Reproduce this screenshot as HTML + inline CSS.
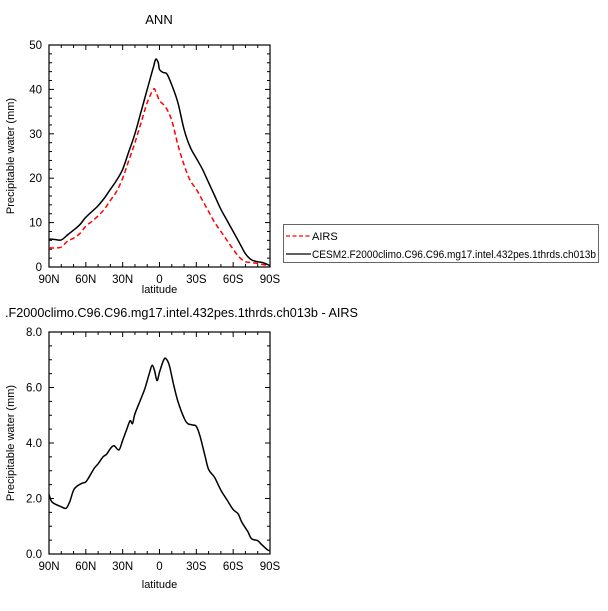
<!DOCTYPE html>
<html><head><meta charset="utf-8"><style>
body{margin:0;background:#fff;}
svg{display:block;font-family:"Liberation Sans",Arial,sans-serif;}
</style></head><body>
<svg id="c" width="608" height="611" viewBox="0 0 608 611">
<text x="159" y="24" font-size="13" text-anchor="middle">ANN</text>
<text x="5" y="317" font-size="13" textLength="353" lengthAdjust="spacingAndGlyphs">.F2000climo.C96.C96.mg17.intel.432pes.1thrds.ch013b - AIRS</text>
<g>
<rect x="283.5" y="224.5" width="315" height="38" fill="#fff" stroke="#666" stroke-width="1"/>
<line x1="286" y1="236" x2="311" y2="236" stroke="#f00" stroke-width="1.3" stroke-dasharray="4,2.5"/>
<text x="312" y="240" font-size="11">AIRS</text>
<line x1="286" y1="254" x2="311" y2="254" stroke="#000" stroke-width="1.3"/>
<text x="312" y="258" font-size="11" textLength="284" lengthAdjust="spacingAndGlyphs">CESM2.F2000climo.C96.C96.mg17.intel.432pes.1thrds.ch013b</text>
</g>
</svg>
<script>
const latTop=[90,85,80,75,70,65,60,55,50,45,40,35,30,25,20,15,10,5,3,1,0,-3,-6,-10,-15,-20,-25,-30,-35,-40,-45,-50,-55,-60,-65,-70,-75,-80,-85,-90];
const cesm=[6.3,6.2,6.1,7.2,8.3,9.5,11.2,12.5,13.8,15.5,17.5,19.5,22,26,30,35,40,45,46.8,46,44.5,43.8,43.5,41,37,31,27,24.5,22,19,16,13,10.5,8,5.5,3,1.6,1.2,0.9,0.3];
const latAirs=[90,85,80,75,70,65,60,55,50,45,40,35,30,25,20,15,10,5,3,0,-5,-10,-15,-20,-25,-30,-35,-40,-45,-50,-55,-60,-65,-70,-75,-80,-85,-90];
const airs=[4.3,4.3,4.5,5.8,6.5,7.5,9.2,10.3,11.5,13,15,17,20,24,28,32.5,37,40,39.5,37.5,36,33,27.5,23,19.5,17.5,15,12.5,10,8,6,4,2.2,1.2,1,0.8,0.5,0.3];
const latDiff=[90,88,85,80,76,73,70,67,63,60,57,53,50,46,43,40,37,33,30,27,24,22,20,16,12,8,6,4,2,0,-3,-5,-8,-11,-15,-20,-23,-27,-30,-33,-37,-40,-45,-50,-55,-60,-64,-67,-72,-75,-80,-83,-88,-90];
const diff=[2.15,1.9,1.8,1.7,1.65,1.9,2.3,2.45,2.55,2.6,2.8,3.1,3.25,3.5,3.6,3.8,3.9,3.75,4.1,4.45,4.8,4.7,5.05,5.5,5.95,6.55,6.8,6.6,6.25,6.55,6.95,7.05,6.8,6.2,5.5,4.9,4.7,4.65,4.6,4.25,3.55,3.05,2.75,2.3,1.95,1.6,1.45,1.15,0.8,0.55,0.48,0.35,0.15,0.12];
const xTicks=[90,60,30,0,-30,-60,-90];
const xTickLabels=["90N","60N","30N","0","30S","60S","90S"];
const yTicksTop=[0,10,20,30,40,50];
const yTicksBot=[0,2,4,6,8];
const yLabelsBot=["0.0","2.0","4.0","6.0","8.0"];

const svg=document.getElementById('c');
const NS='http://www.w3.org/2000/svg';
function mk(t,a){const e=document.createElementNS(NS,t);for(const k in a)e.setAttribute(k,a[k]);svg.appendChild(e);return e;}
const L=49,R=270;
const xs=lat=>L+(90-lat)/180*(R-L);
function smooth(pts){
  let d='M'+pts[0][0].toFixed(1)+','+pts[0][1].toFixed(1);
  for(let i=0;i<pts.length-1;i++){
    const p0=pts[i-1]||pts[i],p1=pts[i],p2=pts[i+1],p3=pts[i+2]||p2;
    const c1=[p1[0]+(p2[0]-p0[0])/6,p1[1]+(p2[1]-p0[1])/6];
    const c2=[p2[0]-(p3[0]-p1[0])/6,p2[1]-(p3[1]-p1[1])/6];
    d+='C'+c1[0].toFixed(1)+','+c1[1].toFixed(1)+' '+c2[0].toFixed(1)+','+c2[1].toFixed(1)+' '+p2[0].toFixed(1)+','+p2[1].toFixed(1);
  }
  return d;
}
function panel(top,bot,ymax,yTicks,yLabels,yMinor,series,name,titleOff){
  const ys=v=>bot-(v/ymax)*(bot-top);
  const f=mk('rect',{x:L,y:top,width:R-L,height:bot-top,fill:'none',stroke:'#000','stroke-width':1.2});
  
  
  for(let lat=90;lat>=-90;lat-=10){
    const x=xs(lat);const major=lat%30===0;const len=major?5:3;
    mk('line',{x1:x,y1:bot,x2:x,y2:bot-len,stroke:'#000','stroke-width':1});
    mk('line',{x1:x,y1:top,x2:x,y2:top+len,stroke:'#000','stroke-width':1});
  }
  for(let v=0;v<=ymax+1e-9;v+=yMinor){
    const y=ys(v);const major=yTicks.some(t=>Math.abs(t-v)<1e-6);const len=major?5:3;
    mk('line',{x1:L,y1:y,x2:L+len,y2:y,stroke:'#000','stroke-width':1});
    mk('line',{x1:R,y1:y,x2:R-len,y2:y,stroke:'#000','stroke-width':1});
  }
  xTicks.forEach((t,i)=>{const e=mk('text',{x:xs(t),y:bot+16,'font-size':11.5,'text-anchor':'middle'});e.textContent=xTickLabels[i];
    
    });
  yTicks.forEach((t,i)=>{const e=mk('text',{x:L-7,y:ys(t)+4,'font-size':11.5,'text-anchor':'end'});e.textContent=yLabels[i];
    
    });
  const xt=mk('text',{x:(L+R)/2,y:bot+titleOff,'font-size':11,'text-anchor':'middle'});xt.textContent='latitude';
  
  
  const cy=(top+bot)/2;
  const yt=mk('text',{x:14,y:cy,'font-size':11,'text-anchor':'middle',transform:'rotate(-90 14 '+cy+')'});yt.textContent='Precipitable water (mm)';
  
  
  series.forEach(s=>{
    const pts=s.lat.map((la,i)=>[xs(la),ys(s.v[i])]);
    const p=mk('path',{d:smooth(pts),fill:'none',stroke:s.color,'stroke-width':1.5,'stroke-linejoin':'round'});
    if(s.dash)p.setAttribute('stroke-dasharray',s.dash);
    
    
  });
}
panel(45,267,50,yTicksTop,yTicksTop.map(String),2,[
  {lat:latAirs,v:airs,color:'#f00',dash:'5,3',name:'airs-line'},
  {lat:latTop,v:cesm,color:'#000',name:'cesm-line'}],'top-panel',26);
panel(332,554,8,yTicksBot,yLabelsBot,0.5,[
  {lat:latDiff,v:diff,color:'#000',name:'difference-line'}],'bottom-panel',34);
</script>
</body></html>
